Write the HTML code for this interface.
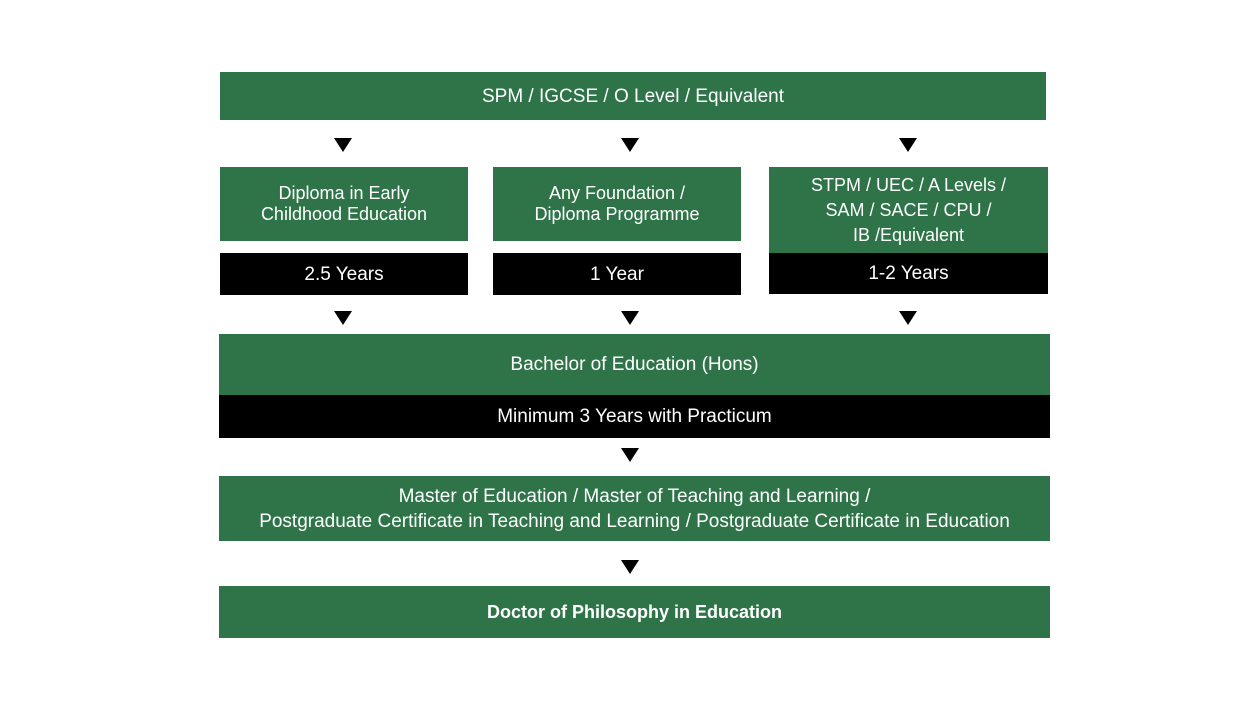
<!DOCTYPE html>
<html><head><style>
body{margin:0;width:1241px;height:719px;background:#fff;position:relative;font-family:"Liberation Sans",sans-serif;overflow:hidden}
.b{position:absolute;display:flex;align-items:center;justify-content:center;text-align:center;color:#fff;font-size:19px;line-height:21px}
.g{background:#2f7449}
.k{background:#000}
.t{position:absolute;width:0;height:0;border-left:9px solid transparent;border-right:9px solid transparent;border-top:14px solid #000}
</style></head><body>
<div class="b g" style="left:220px;top:72px;width:826px;height:48px">SPM / IGCSE / O Level / Equivalent</div>
<div class="t" style="left:334px;top:138px"></div>
<div class="t" style="left:621px;top:138px"></div>
<div class="t" style="left:899px;top:138px"></div>
<div class="b g" style="left:220px;top:167px;width:248px;height:74px;font-size:18px">Diploma in Early<br>Childhood Education</div>
<div class="b k" style="left:220px;top:253px;width:248px;height:42px">2.5 Years</div>
<div class="b g" style="left:493px;top:167px;width:248px;height:74px;font-size:18px">Any Foundation /<br>Diploma Programme</div>
<div class="b k" style="left:493px;top:253px;width:248px;height:42px">1 Year</div>
<div class="b g" style="left:769px;top:167px;width:279px;height:86px;line-height:25px;font-size:18px">STPM / UEC / A Levels /<br>SAM / SACE / CPU /<br>IB /Equivalent</div>
<div class="b k" style="left:769px;top:253px;width:279px;height:41px">1-2 Years</div>
<div class="t" style="left:334px;top:311px"></div>
<div class="t" style="left:621px;top:311px"></div>
<div class="t" style="left:899px;top:311px"></div>
<div class="b g" style="left:219px;top:334px;width:831px;height:61px">Bachelor of Education (Hons)</div>
<div class="b k" style="left:219px;top:395px;width:831px;height:43px">Minimum 3 Years with Practicum</div>
<div class="t" style="left:621px;top:448px"></div>
<div class="b g" style="left:219px;top:476px;width:831px;height:65px;line-height:25px">Master of Education / Master of Teaching and Learning /<br>Postgraduate Certificate in Teaching and Learning / Postgraduate Certificate in Education</div>
<div class="t" style="left:621px;top:560px"></div>
<div class="b g" style="left:219px;top:586px;width:831px;height:52px;font-weight:bold;font-size:18px">Doctor of Philosophy in Education</div>
</body></html>
